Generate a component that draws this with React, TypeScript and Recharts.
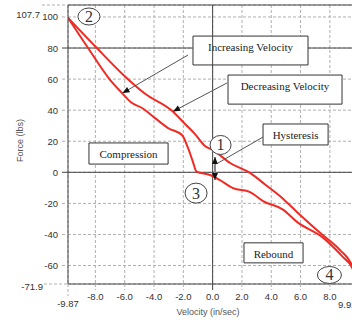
import React from 'react';
import {
  LineChart,
  Line,
  XAxis,
  YAxis,
  CartesianGrid,
  ReferenceLine,
  ReferenceArea,
  ReferenceDot,
  Label,
} from 'recharts';

const X_MIN = -9.87;
const X_MAX = 9.92;
const Y_MIN = -71.9;
const Y_MAX = 107.7;

const xTicks = [-9.87, -8, -6, -4, -2, 0, 2, 4, 6, 8, 9.92];
const yTicks = [-71.9, -60, -40, -20, 0, 20, 40, 60, 80, 100, 107.7];

// lower / left branch of the loop
const increasingVelocity = [-9.87, -8.5, -7.0, -6.18, -5.5, -4.82, -3.93, -3.04, -2.09, -1.68, -1.34, -1.1, -0.18, 0.5, 1.39, 2.55, 3.44, 4.8, 5.75, 7.55, 8.9, 9.5, 9.92];
const increasingForce = [99.5, 80, 59.5, 51, 44.6, 41.4, 34.9, 28.5, 24, 15.7, 6.6, 0.5, -1.7, -5, -10.2, -12.7, -18.5, -24, -31.9, -42.2, -54.6, -61, -71.9];

// upper / right branch of the loop
const decreasingVelocity = [-9.87, -7.9, -6.18, -4.61, -2.77, -1.88, -1.2, -0.52, 0.03, 1.19, 2.55, 3.6, 4.8, 5.75, 7.35, 8.7, 9.5, 9.92];
const decreasingForce = [99.5, 80, 63.5, 50.6, 39.6, 31.1, 24.6, 16.9, 14.3, 6, -0.4, -8, -17, -25.5, -39.1, -50.1, -59.8, -71.9];

const increasingData = increasingVelocity.map((v, i) => ({ v, f: increasingForce[i] }));
const decreasingData = decreasingVelocity.map((v, i) => ({ v, f: decreasingForce[i] }));

// annotation boxes, arrows and circled numbers (data units)
const boxes = [
  { text: 'Increasing Velocity', x1: -1.34, x2: 6.51, y1: 87.7, y2: 69.1 },
  { text: 'Decreasing Velocity', x1: 1.05, x2: 8.83, y1: 62.6, y2: 43.9 },
  { text: 'Hysteresis', x1: 3.44, x2: 7.88, y1: 31.1, y2: 17.6 },
  { text: 'Compression', x1: -8.44, x2: -3.04, y1: 18.9, y2: 5.3 },
  { text: 'Rebound', x1: 2.14, x2: 6.17, y1: -45.4, y2: -58.3 },
];

const arrows = [
  { from: { x: -1.68, y: 75.5 }, to: { x: -6.15, y: 51.0 }, heads: 'end' },
  { from: { x: 0.98, y: 57.5 }, to: { x: -2.7, y: 39.2 }, heads: 'end' },
  { from: { x: 3.44, y: 22.7 }, to: { x: 0.37, y: 6.0 }, heads: 'none' },
];

const circles = [
  { n: '2', x: -8.44, y: 100.3, rx: 11, ry: 8.5 },
  { n: '1', x: 0.54, y: 17.6, rx: 10.5, ry: 9.5 },
  { n: '3', x: -1.13, y: -13.4, rx: 11, ry: 10 },
  { n: '4', x: 7.97, y: -66.1, rx: 12, ry: 8.5 },
];

const GRID = '#b0b0b0';
const AXIS = '#444';
const SANS = '"Liberation Sans", Arial, sans-serif';
const SERIF = '"Liberation Serif", "Times New Roman", serif';

const YTick = ({ x, y, payload }: any) => {
  const v = payload.value;
  const solid = v === 0 || v === 80;
  let start = x - 6;
  let tx = x - 10;
  let ty = y + 3.5;
  if (v === Y_MAX) {
    start = x - 26;
    tx = x - 28;
    ty = y + 13;
  }
  if (v === Y_MIN) {
    start = x - 24;
    tx = x - 25;
    ty = y + 5.5;
  }
  return (
    <g>
      <line x1={start} x2={x} y1={y} y2={y} stroke={solid ? AXIS : GRID} strokeDasharray={solid ? undefined : '3 2'} />
      <text x={tx} y={ty} textAnchor="end" fontSize={9.5} fill="#333" fontFamily={SANS}>
        {v}
      </text>
    </g>
  );
};

const XTick = ({ x, y, payload }: any) => {
  const v = payload.value;
  const label = Number.isInteger(v) ? v.toFixed(1) : String(v);
  let len = 6;
  let tx = x;
  let ty = y + 15.5;
  let anchor = 'middle';
  if (v === X_MIN) {
    len = 12;
    ty = y + 22.5;
  }
  if (v === X_MAX) {
    len = 12;
    tx = x - 20;
    ty = y + 23.5;
    anchor = 'start';
  }
  const solid = v === 0;
  return (
    <g>
      <line x1={x} x2={x} y1={y} y2={y + len} stroke={solid ? AXIS : GRID} strokeDasharray={solid ? undefined : '3 2'} />
      <text x={tx} y={ty} textAnchor={anchor} fontSize={9.5} fill="#333" fontFamily={SANS}>
        {label}
      </text>
    </g>
  );
};

const arrowHead = (tx: number, ty: number, fx: number, fy: number) => {
  const a = Math.atan2(ty - fy, tx - fx);
  const L = 7;
  const W = 3;
  const bx = tx - L * Math.cos(a);
  const by = ty - L * Math.sin(a);
  const px = -Math.sin(a) * W;
  const py = Math.cos(a) * W;
  return <polygon points={`${tx},${ty} ${bx + px},${by + py} ${bx - px},${by - py}`} fill="#111" />;
};

const arrowShape = (heads: string, color: string, width: number) => (p: any) => {
  const { x1, y1, x2, y2 } = p;
  return (
    <g>
      <line x1={x1} y1={y1} x2={x2} y2={y2} stroke={color} strokeWidth={width} />
      {heads !== 'none' && arrowHead(x2, y2, x1, y1)}
      {heads === 'both' && arrowHead(x1, y1, x2, y2)}
    </g>
  );
};

const boxLabel = (text: string) => (props: any) => {
  const { x, y, width } = props.viewBox;
  return (
    <text x={x + width / 2} y={y + 15} textAnchor="middle" fontSize={11} fill="#222" fontFamily={SERIF}>
      {text}
    </text>
  );
};

const circleShape = (n: string, rx: number, ry: number) => (p: any) => (
  <g>
    <ellipse cx={p.cx} cy={p.cy} rx={rx} ry={ry} fill="#fff" stroke="#444" strokeWidth={1} />
    <text x={p.cx} y={p.cy + 5.5} textAnchor="middle" fontSize={16} fill="#333" fontFamily={SERIF}>
      {n}
    </text>
  </g>
);

const yTitle = (props: any) => {
  const { y, height } = props.viewBox;
  const cx = 23;
  const cy = y + height / 2 - 4;
  return (
    <text x={cx} y={cy} transform={`rotate(-90 ${cx} ${cy})`} textAnchor="middle" fontSize={9} fill="#555" fontFamily={SANS}>
      Force (lbs)
    </text>
  );
};

const xTitle = (props: any) => {
  const { x, y } = props.viewBox;
  return (
    <text x={x + 140} y={y + 30.5} textAnchor="middle" fontSize={9} fill="#555" fontFamily={SANS}>
      Velocity (in/sec)
    </text>
  );
};

export default function App() {
  return (
    <div style={{ position: 'absolute', left: 0, top: 0, width: 352, height: 320, overflow: 'hidden', background: '#fff' }}>
      <LineChart width={372} height={320} margin={{ top: 5, right: 14, left: 0, bottom: 0 }}>
        <CartesianGrid stroke={GRID} strokeDasharray="3 2" />
        <XAxis
          type="number"
          dataKey="v"
          domain={[X_MIN, X_MAX]}
          ticks={xTicks}
          interval={0}
          allowDataOverflow
          height={36}
          tickSize={0}
          tickMargin={0}
          tickLine={false}
          axisLine={{ stroke: AXIS }}
          tick={<XTick />}
        >
          <Label content={xTitle} />
        </XAxis>
        <YAxis
          type="number"
          dataKey="f"
          domain={[Y_MIN, Y_MAX]}
          ticks={yTicks}
          interval={0}
          allowDataOverflow
          width={68}
          tickSize={0}
          tickMargin={0}
          tickLine={false}
          axisLine={{ stroke: AXIS }}
          tick={<YTick />}
        >
          <Label content={yTitle} />
        </YAxis>

        <ReferenceLine y={0} stroke={AXIS} />
        <ReferenceLine x={0} stroke={AXIS} />
        <ReferenceLine y={Y_MAX} stroke={AXIS} />
        <ReferenceLine segment={[{ x: X_MIN, y: 80 }, { x: -1.34, y: 80 }]} stroke={AXIS} />
        <ReferenceLine segment={[{ x: 6.51, y: 80 }, { x: X_MAX, y: 80 }]} stroke={AXIS} />

        <Line data={increasingData} dataKey="f" type="monotone" stroke="#ee2b24" strokeWidth={2} dot={false} isAnimationActive={false} />
        <Line data={decreasingData} dataKey="f" type="monotone" stroke="#ee2b24" strokeWidth={2} dot={false} isAnimationActive={false} />

        {boxes.map((b) => (
          <ReferenceArea
            key={b.text}
            x1={b.x1}
            x2={b.x2}
            y1={b.y1}
            y2={b.y2}
            fill="#fff"
            fillOpacity={1}
            stroke="#333"
            strokeWidth={1}
            label={<Label content={boxLabel(b.text)} />}
          />
        ))}

        {arrows.map((a, i) => (
          <ReferenceLine key={`a${i}`} segment={[a.from, a.to]} shape={arrowShape(a.heads, '#555', 1)} />
        ))}
        <ReferenceLine segment={[{ x: 0.16, y: 9.8 }, { x: 0.16, y: -5.0 }]} shape={arrowShape('both', '#888', 2)} />

        {circles.map((c) => (
          <ReferenceDot key={c.n} x={c.x} y={c.y} r={10} shape={circleShape(c.n, c.rx, c.ry)} />
        ))}
      </LineChart>
    </div>
  );
}
